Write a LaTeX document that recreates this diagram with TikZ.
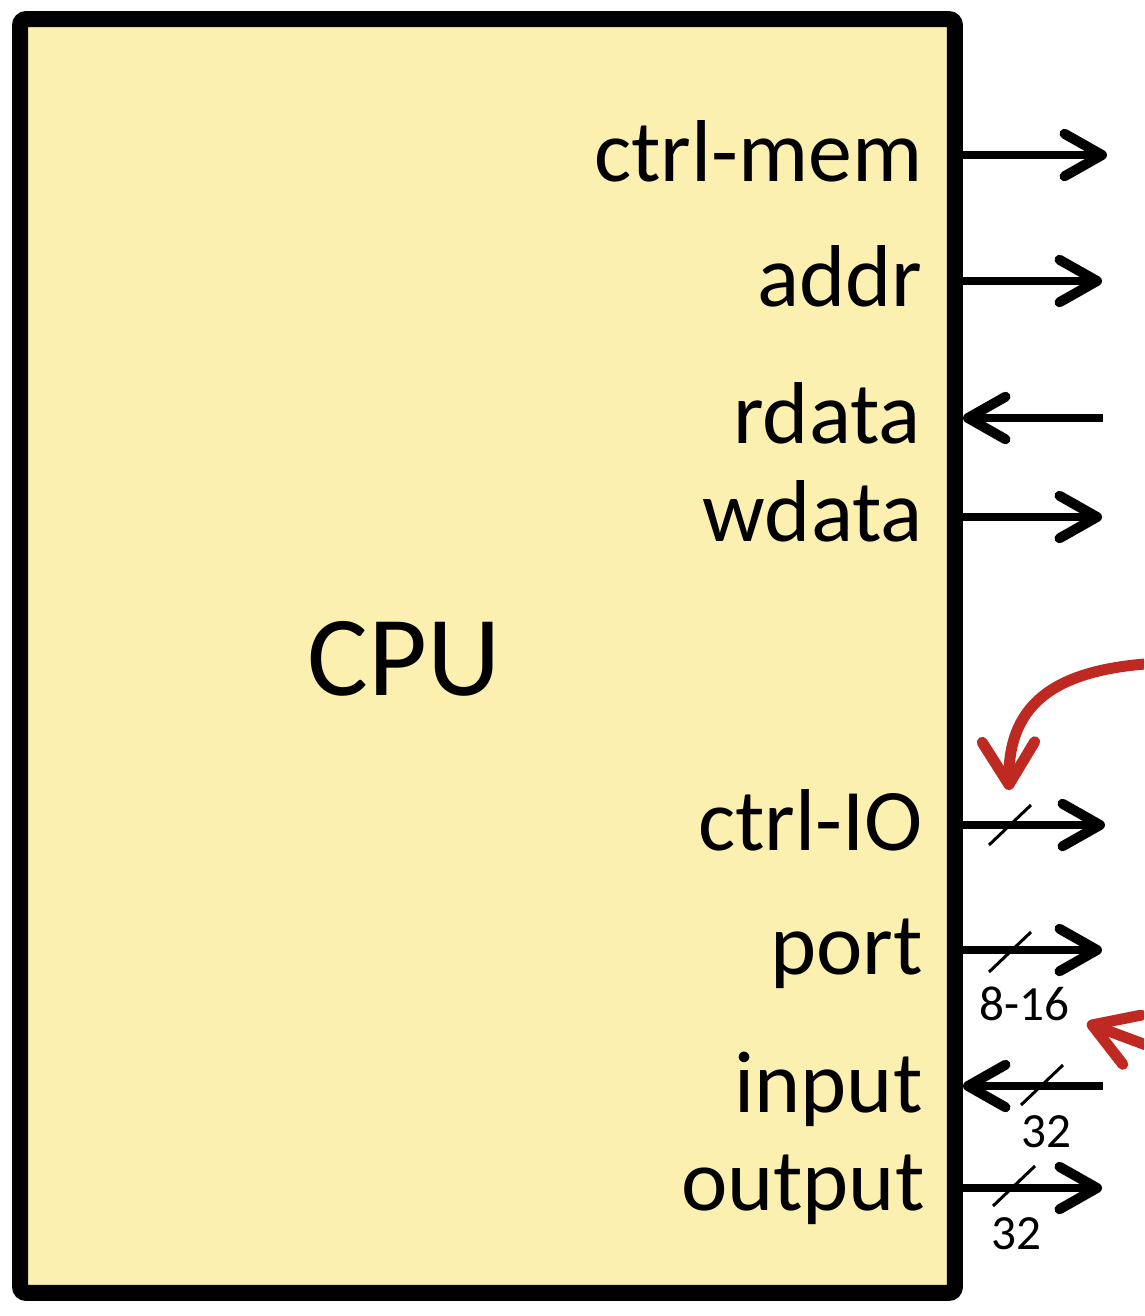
\documentclass[tikz,border=0pt]{standalone}
\usepackage{fontspec}
\setmainfont{Carlito}
\usetikzlibrary{arrows.meta}
\definecolor{cpufill}{HTML}{FCF0B0}
\definecolor{hintred}{HTML}{BE2A22}

\begin{document}
\begin{tikzpicture}[x=0.02cm,y=-0.02cm,
  cpubox/.style={draw=black,fill=cpufill,line width=3.2mm,rounded corners=1.2mm,
                 minimum width=18.7cm,minimum height=25.48cm,inner sep=0pt},
  sig/.style={font=\fontsize{50}{60}\selectfont,anchor=base east,inner sep=0pt},
  buswd/.style={font=\fontsize{28}{32}\selectfont,inner sep=0pt},
  wire/.style={line width=1.7mm,-{Straight Barb[length=7.5mm,width=8.5mm,round,line width=2mm]}},
  slash/.style={line width=0.6mm},
  hint/.style={draw=hintred,line width=2.2mm,-{Straight Barb[length=8.5mm,width=10.5mm,round]}}
]
\useasboundingbox (0,0) rectangle (1144,1316);
\clip (0,0) rectangle (1144,1316);

\node[cpubox] (cpu) at (487.5,656) {};
\node[font=\fontsize{65}{78}\selectfont,anchor=base,inner sep=0pt] (cpuname) at (404,695) {CPU};

% port ends: border side and free side
\foreach \p/\y/\e in {mem/155/1107,addr/281/1102,rdata/418/1103,wdata/517/1102,
                      io/825/1105,port/950/1102,input/1086/1103,output/1188/1102}{
  \coordinate (\p-in) at (955,\y);
  \coordinate (\p-out) at (\e,\y);
}
\coordinate (rdata-tip) at (963,418);
\coordinate (input-tip) at (963,1086);

\node[sig] (lmem) at (923,181) {ctrl-mem};
\node[sig] (laddr) at (923,306) {addr};
\node[sig] (lrdata) at (921,443) {rdata};
\node[sig] (lwdata) at (923,541) {wdata};
\node[sig] (lio) at (923,850) {ctrl-IO};
\node[sig] (lport) at (923,974) {port};
\node[sig] (linput) at (923,1112) {input};
\node[sig] (loutput) at (925,1210) {output};

\draw[wire] (mem-in) -- (mem-out);
\draw[wire] (addr-in) -- (addr-out);
\draw[wire] (rdata-out) -- (rdata-tip);
\draw[wire] (wdata-in) -- (wdata-out);
\draw[wire] (io-in) -- (io-out);
\draw[wire] (port-in) -- (port-out);
\draw[wire] (input-out) -- (input-tip);
\draw[wire] (output-in) -- (output-out);

% bus slashes
\foreach \x/\y in {1010/825,1010/952,1042/1085,1014/1186}
  \draw[slash] (\x-21,\y+20) -- (\x+21,\y-20);

\node[buswd] (wport) at (1024,1004) {8-16};
\node[buswd] (winput) at (1046,1132) {32};
\node[buswd] (woutput) at (1016,1234) {32};

% red pointers
\coordinate (hintA) at (1160,663);
\coordinate (hintAtip) at (1009,790);
\coordinate (hintB) at (1216,1071);
\coordinate (hintBtip) at (1087,1023);
\draw[hint] (hintA) .. controls (1060,668) and (1008,700) .. (hintAtip);
\draw[hint] (hintB) -- (hintBtip);
\end{tikzpicture}
\end{document}
